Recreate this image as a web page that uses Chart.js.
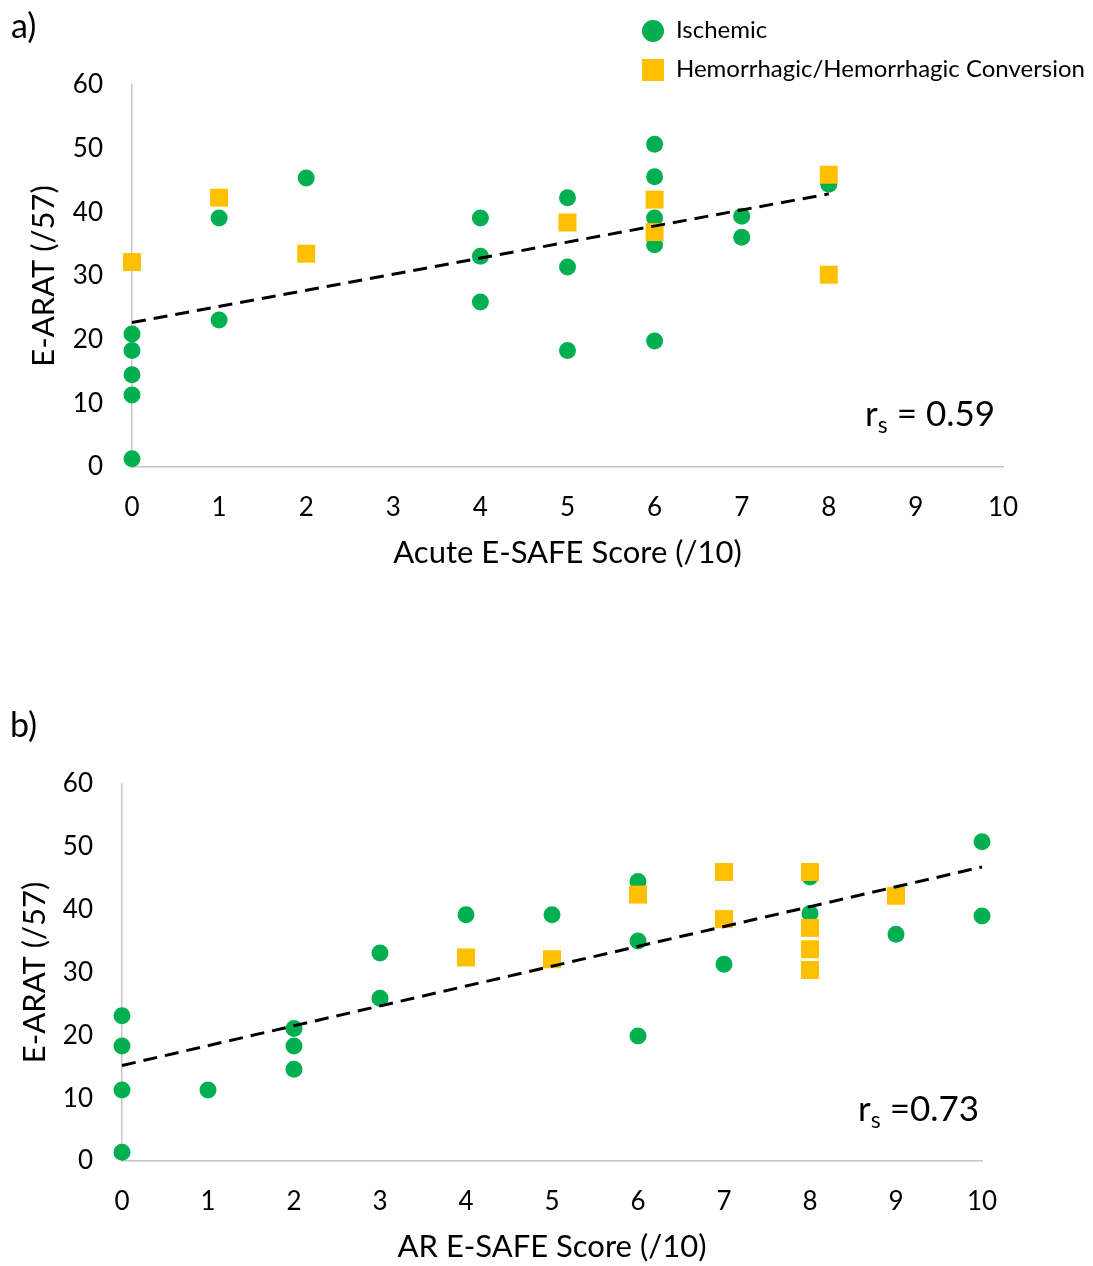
<!DOCTYPE html>
<html>
<head>
<meta charset="utf-8">
<script src="https://cdn.jsdelivr.net/npm/chart.js"></script>
<style>
body { margin: 0; background: #fff; font-family: Lato, "Open Sans", sans-serif; color: #000; }
#page { position: relative; width: 1093px; height: 1266px; }
canvas { position: absolute; left: 0; }
.panel { position: absolute; font-size: 34px; line-height: 1; }
.rs { position: absolute; font-size: 35px; line-height: 1; }
.rs sub { font-size: 23px; vertical-align: -7px; }
#legend { position: absolute; left: 642px; top: 17px; font-size: 24px; line-height: 1; }
#legend div { height: 39px; display: flex; align-items: flex-start; }
#legend .sw { width: 22px; height: 22px; margin-right: 12px; margin-top: 3px; flex: none; }
</style>
</head>
<body>
<div id="page">
  <canvas id="chartA" width="1093" height="600" style="top:0"></canvas>
  <canvas id="chartB" width="1093" height="626" style="top:640px"></canvas>
  <div class="panel" style="left:11px; top:8px">a)</div>
  <div class="panel" style="left:10px; top:707px">b)</div>
  <div class="rs" style="left:865px; top:395px">r<sub>s</sub> = 0.59</div>
  <div class="rs" style="left:858px; top:1090px">r<sub>s</sub> =0.73</div>
  <div id="legend">
    <div><span class="sw" style="background:#00b050; border-radius:50%"></span>Ischemic</div>
    <div><span class="sw" style="background:#ffc000"></span>Hemorrhagic/Hemorrhagic Conversion</div>
  </div>
</div>
<script>
// a) acute E-SAFE vs E-ARAT
const aIschX = [0, 0, 0, 0, 0, 1, 1, 2, 4, 4, 4, 5, 5, 5, 6, 6, 6, 6, 6, 7, 7, 8];
const aIschY = [20.9, 18.3, 14.5, 11.3, 1.3, 39.1, 23.1, 45.4, 39.1, 33.1, 25.9, 42.3, 31.4, 18.3, 50.7, 45.6, 39.1, 34.9, 19.8, 39.4, 36.1, 44.4];
const aHemX = [0, 1, 2, 5, 6, 6, 8, 8];
const aHemY = [32.2, 42.3, 33.5, 38.4, 42.0, 36.9, 45.9, 30.2];
const aTrendX = [0, 8];
const aTrendY = [22.7, 42.9];

// b) AR E-SAFE vs E-ARAT
const bIschX = [0, 0, 0, 0, 1, 2, 2, 2, 3, 3, 4, 5, 6, 6, 6, 7, 8, 8, 9, 9, 10, 10];
const bIschY = [23.1, 18.3, 11.3, 1.4, 11.3, 21.1, 18.3, 14.6, 33.1, 25.9, 39.2, 39.2, 44.5, 35.0, 19.9, 31.3, 45.2, 39.4, 42.4, 36.1, 50.8, 39.0];
const bHemX = [4, 5, 6, 7, 7, 8, 8, 8, 8, 9];
const bHemY = [32.4, 32.1, 42.4, 46.0, 38.5, 46.0, 37.1, 33.7, 30.4, 42.2];
const bTrendX = [0, 10];
const bTrendY = [15.2, 46.8];

const xTicks = [0, 1, 2, 3, 4, 5, 6, 7, 8, 9, 10];
const yTicks = [0, 10, 20, 30, 40, 50, 60];

const GREEN = '#00b050';
const GOLD = '#ffc000';
const FONT = 'Lato, "Open Sans", sans-serif';

function pts(xs, ys) {
    return xs.map((x, i) => ({ x: x, y: ys[i] }));
}

function makeChart(id, o) {
    const ctx = document.getElementById(id).getContext('2d');
    return new Chart(ctx, {
        type: 'scatter',
        data: {
            datasets: [
                {
                    type: 'line', label: 'trend', data: pts(o.trendX, o.trendY),
                    borderColor: '#000', borderWidth: 3, borderDash: [14, 8],
                    pointRadius: 0, fill: false, clip: false
                },
                {
                    label: 'Hemorrhagic/Hemorrhagic Conversion', data: pts(o.hemX, o.hemY),
                    pointStyle: 'rect', pointRadius: 12.7, pointHoverRadius: 12.7,
                    backgroundColor: GOLD, borderWidth: 0, clip: false
                },
                {
                    label: 'Ischemic', data: pts(o.ischX, o.ischY),
                    pointStyle: 'circle', pointRadius: 8.5, pointHoverRadius: 8.5,
                    backgroundColor: GREEN, borderWidth: 0, clip: false
                }
            ]
        },
        options: {
            responsive: false,
            animation: false,
            events: [],
            layout: { padding: { top: o.padTop, right: o.padRight, left: 0, bottom: 0 } },
            plugins: { legend: { display: false }, tooltip: { enabled: false } },
            scales: {
                x: {
                    type: 'linear', min: 0, max: 10,
                    afterBuildTicks: s => { s.ticks = xTicks.map(v => ({ value: v })); },
                    afterFit: s => { s.height = o.xHeight; },
                    grid: { display: false, drawTicks: false },
                    border: { color: '#c6c6c6', width: 1.5 },
                    ticks: { color: '#000', padding: 25, font: { family: FONT, size: 26 } },
                    title: {
                        display: true, text: o.xTitle, color: '#000',
                        font: { family: FONT, size: 31 },
                        padding: { top: 0, bottom: o.xTitlePad }
                    }
                },
                y: {
                    type: 'linear', min: 0, max: 60,
                    afterBuildTicks: s => { s.ticks = yTicks.map(v => ({ value: v })); },
                    afterFit: s => { s.width = o.yWidth; },
                    grid: { display: false, drawTicks: false },
                    border: { color: '#c6c6c6', width: 1.5 },
                    ticks: { color: '#000', padding: 29, font: { family: FONT, size: 26 } },
                    title: {
                        display: true, text: 'E-ARAT (/57)', color: '#000',
                        font: { family: FONT, size: 31 },
                        padding: { top: o.yTitlePad, bottom: 0 }
                    }
                }
            }
        }
    });
}

makeChart('chartA', {
    ischX: aIschX, ischY: aIschY, hemX: aHemX, hemY: aHemY,
    trendX: aTrendX, trendY: aTrendY,
    xTitle: 'Acute E-SAFE Score (/10)',
    padTop: 85, padRight: 90, xHeight: 133, yWidth: 132,
    xTitlePad: 28, yTitlePad: 25
});

makeChart('chartB', {
    ischX: bIschX, ischY: bIschY, hemX: bHemX, hemY: bHemY,
    trendX: bTrendX, trendY: bTrendY,
    xTitle: 'AR E-SAFE Score (/10)',
    padTop: 144, padRight: 111, xHeight: 105, yWidth: 122,
    xTitlePad: 0, yTitlePad: 16
});
</script>
</body>
</html>
